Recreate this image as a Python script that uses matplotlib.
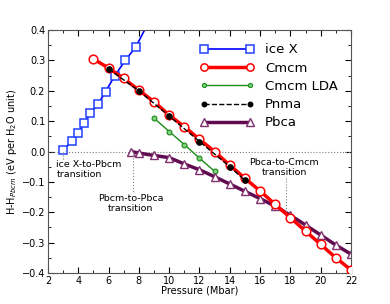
import numpy as np
import matplotlib
matplotlib.use('Agg')
import matplotlib.pyplot as plt
from matplotlib.ticker import MultipleLocator

# enthalpy relative to Pbcm (eV per H2O), pressure in Mbar
p_icex = [3.0, 3.6, 4.0, 4.4, 4.8, 5.3, 5.8, 6.4, 7.1, 7.8, 9.0]
h_icex = [0.005, 0.034, 0.06, 0.095, 0.126, 0.156, 0.197, 0.249, 0.30, 0.345, 0.46]

p_cmcm = [5, 6, 7, 8, 9, 10, 11, 12, 13, 14, 15, 16, 17, 18, 19, 20, 21, 22]
h_cmcm = [0.305, 0.275, 0.241, 0.202, 0.164, 0.12, 0.082, 0.04, 0.0, -0.045,
          -0.088, -0.13, -0.174, -0.218, -0.262, -0.306, -0.35, -0.39]

p_lda = [9, 10, 11, 12, 13]
h_lda = [0.11, 0.066, 0.023, -0.022, -0.065]

p_pnma = [6, 8, 10, 12, 14, 15]
h_pnma = [0.272, 0.2, 0.117, 0.033, -0.05, -0.095]

p_pbca = [7.5, 8, 9, 10, 11, 12, 13, 14, 15, 16, 17, 18, 19, 20, 21, 22]
h_pbca = [0.0, -0.005, -0.013, -0.02, -0.041, -0.06, -0.083, -0.107, -0.131,
          -0.155, -0.18, -0.21, -0.242, -0.275, -0.308, -0.338]

fig = plt.figure(figsize=(3.9, 3.04), dpi=100)
ax = fig.add_axes([0.123, 0.102, 0.777, 0.799])

ax.axhline(0, color='gray', ls=':', lw=0.8)

ax.plot(p_icex, h_icex, '-s', color='#0000ff', mfc='white', mec='#2040ff',
        ms=6, mew=1.1, lw=1.2, label='ice X')
ax.plot(p_cmcm, h_cmcm, '-o', color='#ff0000', mfc='white', mec='#ff0000',
        ms=6.2, mew=1.1, lw=2.5, label='Cmcm', zorder=3)
ax.plot(p_lda, h_lda, '-o', color='#1a8c1a', mfc='#80d080', mec='#1a8c1a',
        ms=3.5, mew=0.8, lw=1.0, label='Cmcm LDA')
ax.plot(p_pnma, h_pnma, '--o', color='black', ms=3.8, lw=1.0,
        label='Pnma', zorder=4)
ax.plot(p_pbca, h_pbca, '-^', color='#600a50', mfc='white', mec='#80306f',
        ms=6.2, mew=1.0, lw=2.5, label='Pbca', zorder=2)

# transitions
ax.plot([3, 3], [0, -0.028], ':', color='gray', lw=0.8)
ax.text(2.55, -0.06, 'ice X-to-Pbcm\ntransition', fontsize=6.8,
        ha='left', va='center', linespacing=1.1)
ax.plot([7.6, 7.6], [0, -0.135], ':', color='gray', lw=0.8)
ax.text(7.47, -0.17, 'Pbcm-to-Pbca\ntransition', fontsize=6.8,
        ha='center', va='center', linespacing=1.1)
ax.plot([17.7, 17.7], [-0.087, -0.2], ':', color='gray', lw=0.8)
ax.text(17.6, -0.052, 'Pbca-to-Cmcm\ntransition', fontsize=6.8,
        ha='center', va='center', linespacing=1.1)

ax.set_xlim(2, 22)
ax.set_ylim(-0.4, 0.4)
ax.xaxis.set_major_locator(MultipleLocator(2))
ax.xaxis.set_minor_locator(MultipleLocator(1))
ax.yaxis.set_major_locator(MultipleLocator(0.1))
ax.yaxis.set_minor_locator(MultipleLocator(0.05))
ax.tick_params(which='both', direction='in', top=True, right=True,
               labelsize=7, pad=2)
ax.tick_params(which='major', length=4)
ax.tick_params(which='minor', length=2)
for s in ax.spines.values():
    s.set_color('#555555')

ax.set_xlabel('Pressure (Mbar)', fontsize=7, labelpad=0)
ax.set_ylabel(r'H-H$_{Pbcm}$ (eV per H$_2$O unit)', fontsize=7, labelpad=2)

ax.legend(loc='upper right', frameon=False, numpoints=2, fontsize=9.5,
          handlelength=4.1, handletextpad=0.8, markerscale=0.85,
          borderaxespad=0.6, labelspacing=0.4)

fig.savefig('out.png', dpi=100)
